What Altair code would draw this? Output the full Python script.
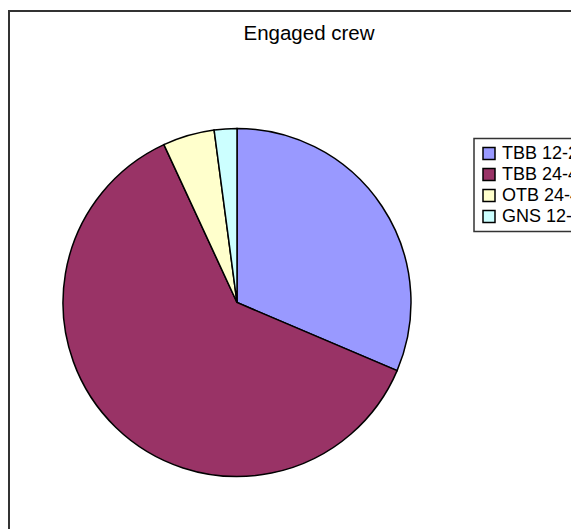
import altair as alt
import pandas as pd

categories = ["TBB 12-24", "TBB 24-40", "OTB 24-40", "GNS 12-24"]
shares = [31.4, 61.7, 4.8, 2.1]
colors = ["#9999FF", "#993366", "#FFFFCC", "#CCFFFF"]
title_text = "Engaged crew"

FONT = "Liberation Sans, Arial, Helvetica, sans-serif"

df = pd.DataFrame({
    "category": categories,
    "share": shares,
    "order": list(range(len(categories))),
})
title_df = pd.DataFrame({"t": [title_text]})

pie = alt.Chart(df).mark_arc(radius=174, stroke="black", strokeWidth=1.5).encode(
    theta=alt.Theta("share:Q", stack=True),
    order=alt.Order("order:Q"),
    color=alt.Color(
        "category:N",
        scale=alt.Scale(domain=categories, range=colors),
        legend=alt.Legend(
            orient="none", legendX=465, legendY=127.5, title=None,
            symbolType="square", symbolSize=144,
            symbolStrokeColor="black", symbolStrokeWidth=1.5,
            labelFont=FONT, labelFontSize=18, labelColor="black",
            labelOffset=4, rowPadding=3, padding=6,
            strokeColor="#333333", fillColor="white", labelLimit=300,
        ),
    ),
    x=alt.value(228),
    y=alt.value(291.5),
)

title = alt.Chart(title_df).mark_text(
    font=FONT, fontSize=20.5, color="black", baseline="alphabetic", align="center"
).encode(text="t:N", x=alt.value(300), y=alt.value(29))

chart = alt.layer(pie, title).properties(
    width=600, height=560,
    padding={"left": 1, "top": 3, "right": -38, "bottom": -42},
    autosize="none",
).configure_view(stroke="#333333", strokeWidth=2).configure_legend(strokeWidth=1.5)

chart.save("out.html", embed_options={"renderer": "svg", "actions": False})
